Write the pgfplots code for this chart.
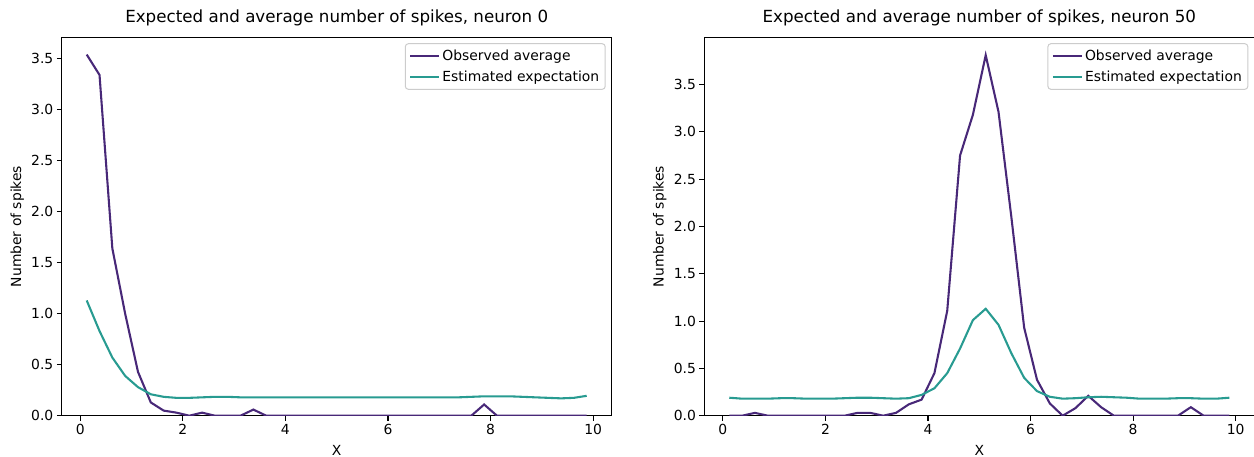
\documentclass[border=0pt]{standalone}
\usepackage{pgfplots}
\pgfplotsset{compat=1.18}
\usepackage{fontspec}
\setmainfont{DejaVu Sans}
\definecolor{cobs}{RGB}{72,40,120}
\definecolor{cexp}{RGB}{40,155,145}
\pgfplotstableread{
x obs exp
0.125 3.54 1.13
0.375 3.34 0.83
0.625 1.64 0.57
0.875 1.00 0.39
1.125 0.43 0.28
1.375 0.13 0.21
1.625 0.05 0.185
1.875 0.03 0.175
2.125 0.00 0.175
2.375 0.03 0.18
2.625 0.00 0.185
2.875 0.00 0.185
3.125 0.00 0.18
3.375 0.06 0.18
3.625 0.00 0.18
3.875 0.00 0.18
4.125 0.00 0.18
4.375 0.00 0.18
4.625 0.00 0.18
4.875 0.00 0.18
5.125 0.00 0.18
5.375 0.00 0.18
5.625 0.00 0.18
5.875 0.00 0.18
6.125 0.00 0.18
6.375 0.00 0.18
6.625 0.00 0.18
6.875 0.00 0.18
7.125 0.00 0.18
7.375 0.00 0.18
7.625 0.00 0.185
7.875 0.11 0.19
8.125 0.00 0.19
8.375 0.00 0.19
8.625 0.00 0.185
8.875 0.00 0.18
9.125 0.00 0.175
9.375 0.00 0.17
9.625 0.00 0.175
9.875 0.00 0.195
}\tableA
\pgfplotstableread{
x obs exp
0.125 0.00 0.19
0.375 0.00 0.18
0.625 0.03 0.18
0.875 0.00 0.18
1.125 0.00 0.185
1.375 0.00 0.185
1.625 0.00 0.18
1.875 0.00 0.18
2.125 0.00 0.18
2.375 0.00 0.185
2.625 0.03 0.19
2.875 0.03 0.19
3.125 0.00 0.185
3.375 0.03 0.18
3.625 0.12 0.185
3.875 0.17 0.22
4.125 0.45 0.29
4.375 1.11 0.45
4.625 2.75 0.71
4.875 3.18 1.01
5.125 3.81 1.13
5.375 3.21 0.96
5.625 2.10 0.66
5.875 0.93 0.40
6.125 0.38 0.26
6.375 0.13 0.20
6.625 0.00 0.18
6.875 0.08 0.185
7.125 0.21 0.195
7.375 0.09 0.20
7.625 0.00 0.195
7.875 0.00 0.19
8.125 0.00 0.18
8.375 0.00 0.18
8.625 0.00 0.18
8.875 0.00 0.185
9.125 0.09 0.185
9.375 0.00 0.18
9.625 0.00 0.18
9.875 0.00 0.19
}\tableB
\pgfplotsset{
  myax/.style={
    scale only axis, width=550pt, height=378.5pt,
    xmin=-0.3625, xmax=10.3625, ymin=0,
    xtick={0,2,4,6,8,10}, ytick={0,0.5,1,1.5,2,2.5,3,3.5},
    tick pos=left, tick align=outside, major tick length=4.86pt,
    tick style={black, line width=1.1pt},
    axis line style={line width=1.1pt},
    tick label style={font=\fontsize{13.9}{16}\selectfont},
    /pgf/number format/assume math mode=true,
    yticklabel style={/pgf/number format/.cd, fixed, fixed zerofill, precision=1},
    xticklabel style={/pgf/number format/.cd, fixed, precision=0},
    xlabel={X}, ylabel={Number of spikes},
    every axis x label/.style={at={(axis description cs:0.5,0)}, anchor=center, yshift=-34.3pt, font=\fontsize{13.9}{16}\selectfont},
    every axis y label/.style={at={(axis description cs:0,0.5)}, rotate=90, anchor=center, yshift=44.5pt, font=\fontsize{13.9}{16}\selectfont},
    title style={at={(axis description cs:0.5,1)}, anchor=base, yshift=8.3pt, font=\fontsize{16.7}{19}\selectfont},
    legend cell align=left,
    legend style={at={(1,1)}, anchor=north east, xshift=-6pt, yshift=-6pt,
      draw=black!20, line width=1pt, rounded corners=3pt, fill=white,
      font=\fontsize{13.9}{16}\selectfont, inner xsep=4pt, inner ysep=4.5pt, row sep=4.5pt},
    legend image code/.code={\draw[#1] (0pt,0pt) -- (29pt,0pt);},
  }
}
\begin{document}
\begin{tikzpicture}
\begin{axis}[myax, ymax=3.71, title={Expected and average number of spikes, neuron 0}]
\addplot[cobs, line width=2.08pt, no marks] table[x=x, y=obs] {\tableA};
\addlegendentry{Observed average}
\addplot[cexp, line width=2.08pt, no marks] table[x=x, y=exp] {\tableA};
\addlegendentry{Estimated expectation}
\end{axis}
\begin{axis}[myax, at={(642.6pt,0pt)}, ymax=4.0, title={Expected and average number of spikes, neuron 50}]
\addplot[cobs, line width=2.08pt, no marks] table[x=x, y=obs] {\tableB};
\addlegendentry{Observed average}
\addplot[cexp, line width=2.08pt, no marks] table[x=x, y=exp] {\tableB};
\addlegendentry{Estimated expectation}
\end{axis}
\pgfresetboundingbox
\path (-61.7pt,-40.3pt) rectangle (1192.3pt,415.7pt);
\end{tikzpicture}
\end{document}
